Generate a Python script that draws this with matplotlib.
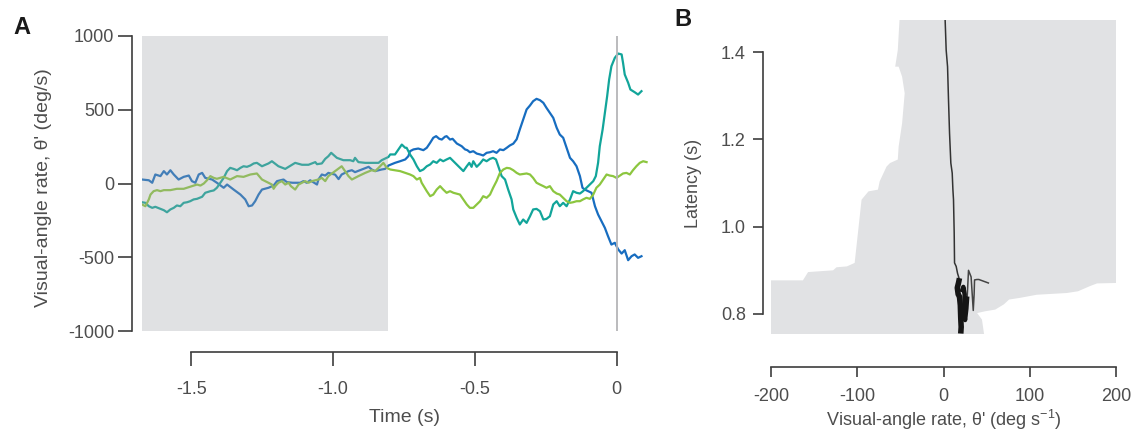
import matplotlib
matplotlib.use("Agg")
import matplotlib.pyplot as plt

plt.rcParams['font.family'] = ['Liberation Sans', 'DejaVu Sans']
plt.rcParams['axes.unicode_minus'] = False
plt.rcParams['mathtext.fontset'] = 'custom'
plt.rcParams['mathtext.rm'] = 'Liberation Sans'
plt.rcParams['mathtext.default'] = 'rm'

# ---------------- Panel A data ----------------
blue_t = [-1.674, -1.650, -1.638, -1.627, -1.609, -1.597, -1.586, -1.574, -1.562, -1.545,
          -1.527, -1.509, -1.498, -1.486, -1.474, -1.462, -1.451, -1.427, -1.410, -1.386,
          -1.374, -1.351, -1.327, -1.310, -1.298, -1.286, -1.275, -1.263, -1.251, -1.228,
          -1.210, -1.198, -1.175, -1.163, -1.143, -1.116, -1.105, -1.093, -1.081, -1.057,
          -1.052, -1.040, -1.028, -1.017, -0.993, -0.981, -0.970, -0.946, -0.934, -0.923,
          -0.899, -0.875, -0.864, -0.852, -0.829, -0.817, -0.805, -0.782, -0.764, -0.746,
          -0.735, -0.729, -0.717, -0.700, -0.682, -0.670, -0.658, -0.647, -0.637, -0.626,
          -0.617, -0.606, -0.600, -0.588, -0.579, -0.564, -0.547, -0.535, -0.527, -0.518,
          -0.506, -0.494, -0.482, -0.471, -0.459, -0.447, -0.436, -0.424, -0.412, -0.400,
          -0.388, -0.377, -0.365, -0.353, -0.342, -0.330, -0.318, -0.306, -0.295, -0.283,
          -0.271, -0.259, -0.248, -0.236, -0.224, -0.212, -0.201, -0.189, -0.177, -0.165,
          -0.154, -0.142, -0.130, -0.121, -0.113, -0.101, -0.089, -0.077, -0.066, -0.054,
          -0.042, -0.031, -0.019, -0.007, 0.005, 0.017, 0.028, 0.040, 0.052, 0.063,
          0.075, 0.087]
blue_v = [27, 22, 5, 61, 50, 84, 61, 90, 61, 27,
          45, 54, 16, 5, 61, 72, 38, 27, 5, -29,
          -7, -41, -75, -108, -154, -149, -120, -75, -41, -29,
          -14, 16, 27, 9, 5, 5, 16, 5, 22, -7,
          27, 61, 54, 72, 60, 30, 61, 84, 90, 77,
          95, 113, 95, 84, 95, 99, 122, 140, 151, 163,
          185, 219, 231, 237, 226, 242, 276, 310, 321, 303,
          298, 317, 321, 298, 303, 271, 253, 231, 226, 212,
          219, 203, 197, 190, 208, 212, 219, 208, 231, 226,
          242, 258, 270, 300, 366, 434, 502, 529, 558, 574,
          565, 547, 513, 479, 445, 378, 332, 310, 242, 174,
          151, 117, 50, -29, -41, -52, -63, -154, -210, -256,
          -301, -357, -414, -402, -447, -475, -452, -520, -493, -481,
          -504, -493]

teal_t = [-1.674, -1.662, -1.650, -1.638, -1.627, -1.609, -1.597, -1.586, -1.574, -1.562,
          -1.551, -1.539, -1.527, -1.515, -1.504, -1.492, -1.480, -1.462, -1.451, -1.433,
          -1.421, -1.410, -1.398, -1.386, -1.374, -1.363, -1.351, -1.339, -1.327, -1.316,
          -1.304, -1.292, -1.280, -1.269, -1.251, -1.228, -1.216, -1.193, -1.169, -1.149,
          -1.134, -1.110, -1.087, -1.063, -1.057, -1.040, -1.028, -1.017, -1.007, -0.987,
          -0.964, -0.940, -0.929, -0.923, -0.911, -0.887, -0.864, -0.840, -0.829, -0.805,
          -0.799, -0.782, -0.770, -0.758, -0.746, -0.741, -0.729, -0.717, -0.705, -0.694,
          -0.682, -0.670, -0.658, -0.647, -0.635, -0.623, -0.612, -0.600, -0.588, -0.576,
          -0.564, -0.553, -0.541, -0.529, -0.520, -0.512, -0.506, -0.494, -0.482, -0.471,
          -0.459, -0.447, -0.436, -0.426, -0.418, -0.406, -0.394, -0.383, -0.371, -0.365,
          -0.353, -0.342, -0.330, -0.318, -0.306, -0.295, -0.283, -0.271, -0.259, -0.248,
          -0.236, -0.224, -0.212, -0.201, -0.189, -0.177, -0.165, -0.154, -0.142, -0.130,
          -0.119, -0.107, -0.095, -0.083, -0.074, -0.066, -0.060, -0.050, -0.042, -0.034,
          -0.027, -0.019, -0.007, 0.005, 0.017, 0.022, 0.028, 0.040, 0.048, 0.063,
          0.075, 0.087]
teal_v = [-127, -131, -154, -165, -158, -172, -181, -195, -176, -165,
          -149, -154, -131, -127, -120, -108, -104, -90, -63, -52,
          -47, -29, 5, 38, 84, 106, 99, 90, 106, 117,
          113, 122, 136, 140, 117, 136, 151, 117, 99, 122,
          140, 127, 127, 145, 131, 136, 167, 185, 208, 174,
          158, 158, 151, 174, 145, 140, 140, 140, 158, 180,
          197, 197, 231, 264, 242, 242, 197, 163, 117, 84,
          95, 117, 129, 151, 140, 163, 151, 163, 174, 151,
          129, 106, 84, 117, 140, 113, 151, 113, 136, 163,
          151, 167, 174, 163, 117, 50, 27, -41, -108, -176,
          -233, -278, -244, -267, -222, -176, -172, -188, -244, -240,
          -222, -142, -120, -154, -131, -154, -108, -52, -63, -68,
          -52, -29, -7, 16, 50, 140, 253, 366, 479, 592,
          705, 795, 852, 881, 875, 818, 739, 683, 637, 619,
          603, 626]

green_t = [-1.674, -1.662, -1.650, -1.644, -1.633, -1.621, -1.609, -1.597, -1.574, -1.551,
           -1.527, -1.504, -1.480, -1.468, -1.456, -1.445, -1.433, -1.421, -1.410, -1.386,
           -1.363, -1.339, -1.316, -1.292, -1.269, -1.251, -1.228, -1.216, -1.210, -1.204,
           -1.193, -1.181, -1.169, -1.157, -1.149, -1.134, -1.122, -1.099, -1.087, -1.075,
           -1.052, -1.040, -1.028, -1.017, -0.993, -0.970, -0.958, -0.946, -0.934, -0.911,
           -0.887, -0.864, -0.852, -0.840, -0.823, -0.811, -0.799, -0.782, -0.764, -0.746,
           -0.729, -0.717, -0.705, -0.694, -0.688, -0.682, -0.670, -0.658, -0.647, -0.635,
           -0.623, -0.612, -0.600, -0.588, -0.576, -0.553, -0.541, -0.529, -0.518, -0.506,
           -0.494, -0.482, -0.471, -0.459, -0.447, -0.436, -0.424, -0.412, -0.400, -0.388,
           -0.377, -0.365, -0.353, -0.342, -0.318, -0.306, -0.295, -0.283, -0.271, -0.259,
           -0.248, -0.236, -0.224, -0.212, -0.201, -0.189, -0.177, -0.165, -0.154, -0.142,
           -0.130, -0.119, -0.107, -0.095, -0.083, -0.072, -0.060, -0.048, -0.036, -0.025,
           -0.013, -0.001, 0.011, 0.022, 0.034, 0.046, 0.057, 0.069, 0.081, 0.093,
           0.105]
green_v = [-142, -154, -108, -75, -52, -45, -52, -45, -45, -36,
           -36, -22, -7, -14, 0, 22, 50, 38, 32, 45,
           27, 50, 45, 61, 68, 27, 5, -7, -36, -18,
           5, 16, -7, 5, -18, -41, -7, 16, 5, 16,
           27, 38, 16, 50, 84, 117, 84, 50, 27, 50,
           72, 90, 84, 106, 140, 106, 95, 90, 84, 72,
           61, 50, 27, 38, 5, -14, -52, -86, -75, -41,
           -18, -41, -63, -52, -63, -75, -108, -142, -165, -165,
           -142, -120, -86, -97, -75, -29, 16, 72, 95, 106,
           103, 90, 72, 61, 68, 61, 38, 5, -7, -18,
           -29, -18, -52, -68, -75, -97, -120, -131, -127, -120,
           -120, -108, -97, -104, -75, -29, -7, 27, 61, 54,
           50, 38, 54, 68, 72, 61, 90, 117, 140, 151,
           145]

a_yticks = [-1000, -500, 0, 500, 1000]
a_xticks = [-1.5, -1.0, -0.5, 0]
a_xticklabels = ["-1.5", "-1.0", "-0.5", "0"]
shade_a = (-1.674, -0.805)

# ---------------- Panel B data ----------------
left_rate = [-200, -200, -163, -157, -128, -124, -112, -103, -95, -87, -76, -74, -66, -62,
             -53, -52, -48, -45, -48, -52, -56, -53, -51]
left_lat = [0.754, 0.877, 0.877, 0.896, 0.900, 0.907, 0.909, 0.917, 1.062, 1.081, 1.085,
            1.104, 1.138, 1.146, 1.154, 1.184, 1.237, 1.306, 1.344, 1.367, 1.367, 1.405, 1.474]
right_rate = [200, 200, 178, 170, 156, 143, 108, 89, 76, 70, 60, 48, 39, 44.6, 47]
right_lat = [1.474, 0.871, 0.870, 0.864, 0.852, 0.848, 0.844, 0.837, 0.833, 0.822, 0.810,
             0.806, 0.802, 0.787, 0.754]

thin_rate = [1.9, 3.1, 4.7, 5.8, 7.0, 8.5, 10.1, 10.9, 11.6, 12.4, 12.8, 14.7, 16.3, 18.0]
thin_lat = [1.474, 1.405, 1.367, 1.291, 1.215, 1.146, 1.123, 1.085, 1.062, 0.986, 0.917,
            0.909, 0.893, 0.882]
thick1_rate = [18.5, 17.5, 16.0, 17.0, 18.5, 19.5, 20.0, 20.5, 20.0]
thick1_lat = [0.882, 0.872, 0.860, 0.845, 0.840, 0.820, 0.790, 0.770, 0.755]
thick2_rate = [21.0, 23.0, 24.5, 24.0, 25.0, 26.5, 27.5]
thick2_lat = [0.850, 0.862, 0.845, 0.800, 0.786, 0.812, 0.840]
wig_rate = [27.5, 29.0, 32.0, 34.5, 35.5, 36.0, 38.8, 41.0, 52.0]
wig_lat = [0.840, 0.900, 0.885, 0.808, 0.845, 0.878, 0.879, 0.879, 0.871]

b_xticks = [-200, -100, 0, 100, 200]
b_yticks = [0.8, 1.0, 1.2, 1.4]
b_yticklabels = ["0.8", "1.0", "1.2", "1.4"]

# ---------------- styling ----------------
W, H = 1133, 437
spine_c = '#3d3d3d'
text_c = '#4d4d4d'
shade_c = '#e1e2e4'
c_blue = '#176dc0'
c_teal = '#12a59a'
c_green = '#8cc63f'
fs = 13

fig = plt.figure(figsize=(W / 100, H / 100), dpi=100)

def px_axes(l, t, r, b):
    return fig.add_axes([l / W, 1 - b / H, (r - l) / W, (b - t) / H])

# ---- Panel A ----
axA = px_axes(142, 36, 648, 331)
axA.set_xlim(-1.674, 0.11)
axA.set_ylim(-1000, 1000)
axA.plot(blue_t, blue_v, color=c_blue, lw=1.6, zorder=2)
axA.plot(teal_t, teal_v, color=c_teal, lw=1.6, zorder=2)
axA.plot(green_t, green_v, color=c_green, lw=1.6, zorder=2)
axA.axvspan(shade_a[0], shade_a[1], color='#a0a3a8', alpha=0.32, lw=0, zorder=3)
axA.axvline(0, color='#b5b5b8', lw=1.3, zorder=4)

for s in ['top', 'right']:
    axA.spines[s].set_visible(False)
axA.spines['left'].set_position(('outward', 7))
axA.spines['bottom'].set_position(('outward', 15))
axA.spines['left'].set_bounds(-1000, 1000)
axA.spines['bottom'].set_bounds(-1.5, 0)
for s in ['left', 'bottom']:
    axA.spines[s].set_color(spine_c)
    axA.spines[s].set_linewidth(1.2)
axA.set_yticks(a_yticks)
axA.set_yticklabels([str(v) for v in a_yticks])
axA.set_xticks(a_xticks)
axA.set_xticklabels(a_xticklabels)
axA.tick_params(axis='y', length=10, width=1.2, color=spine_c, labelcolor=text_c,
                labelsize=fs, pad=3)
axA.tick_params(axis='x', length=10, width=1.2, color=spine_c, labelcolor=text_c,
                labelsize=fs, pad=11)

fig.text(44 / W, 1 - 188 / H, "Visual-angle rate, θ' (deg/s)", rotation=90,
         ha='center', va='center', fontsize=14, color=text_c)
fig.text(405 / W, 1 - 418 / H, "Time (s)", ha='center', va='center',
         fontsize=14, color=text_c)
fig.text(22 / W, 1 - 27 / H, "A", ha='center', va='center', fontsize=17,
         fontweight='bold', color='#1a1a1a')

# ---- Panel B ----
axB = px_axes(771, 20, 1116, 334)
axB.set_xlim(-200, 200)
axB.set_ylim(0.754, 1.474)
poly_x = left_rate + right_rate
poly_y = left_lat + right_lat
axB.fill(poly_x, poly_y, color=shade_c, lw=0, zorder=1)
axB.plot(thin_rate, thin_lat, color='#333333', lw=1.1, zorder=3)
axB.plot(wig_rate, wig_lat, color='#444444', lw=1.1, zorder=3)
axB.plot(thick1_rate, thick1_lat, color='#151515', lw=4.0, zorder=4,
         solid_capstyle='butt')
axB.plot(thick2_rate, thick2_lat, color='#151515', lw=3.2, zorder=4,
         solid_capstyle='butt')

for s in ['top', 'right']:
    axB.spines[s].set_visible(False)
axB.spines['left'].set_position(('outward', 6))
axB.spines['bottom'].set_position(('outward', 24))
axB.spines['left'].set_bounds(0.8, 1.4)
axB.spines['bottom'].set_bounds(-200, 200)
for s in ['left', 'bottom']:
    axB.spines[s].set_color(spine_c)
    axB.spines[s].set_linewidth(1.2)
axB.set_xticks(b_xticks)
axB.set_xticklabels([str(v) for v in b_xticks])
axB.set_yticks(b_yticks)
axB.set_yticklabels(b_yticklabels)
axB.tick_params(axis='y', length=7, width=1.2, color=spine_c, labelcolor=text_c,
                labelsize=fs, pad=5)
axB.tick_params(axis='x', length=7, width=1.2, color=spine_c, labelcolor=text_c,
                labelsize=fs, pad=8)

fig.text(693 / W, 1 - 183 / H, "Latency (s)", rotation=90, ha='center', va='center',
         fontsize=fs, color=text_c)
fig.text(944 / W, 1 - 420 / H, "Visual-angle rate, θ' (deg s$^{-1}$)", ha='center',
         va='center', fontsize=fs, color=text_c)
fig.text(683 / W, 1 - 20 / H, "B", ha='center', va='center', fontsize=17,
         fontweight='bold', color='#1a1a1a')

fig.savefig("out.png", dpi=100)
